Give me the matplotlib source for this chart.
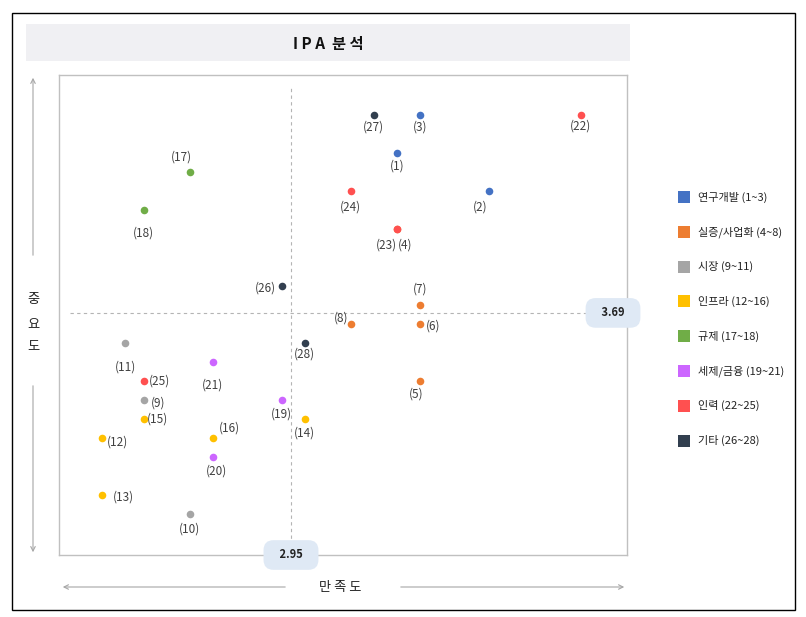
import matplotlib
matplotlib.use('Agg')
import matplotlib.pyplot as plt
from matplotlib.patches import Rectangle, FancyArrowPatch

plt.rcParams['font.family'] = ['Noto Sans CJK KR', 'DejaVu Sans']

# 범주 / 색
groups = ['연구개발 (1~3)', '실증/사업화 (4~8)', '시장 (9~11)', '인프라 (12~16)',
          '규제 (17~18)', '세제/금융 (19~21)', '인력 (22~25)', '기타 (26~28)']
colors = ['#4472C4', '#ED7D31', '#A5A5A5', '#FFC000',
          '#70AD47', '#CC66FF', '#FF5050', '#323F4F']

# 항목 번호, 그룹, 만족도, 중요도
ids = [1, 2, 3, 4, 5, 6, 7, 8, 9, 10, 11, 12, 13, 14,
       15, 16, 17, 18, 19, 20, 21, 22, 23, 24, 25, 26, 27, 28]
grp = [0, 0, 0, 1, 1, 1, 1, 1, 2, 2, 2, 3, 3, 3,
       3, 3, 4, 4, 5, 5, 5, 6, 6, 6, 6, 7, 7, 7]
satis = [3.18, 3.38, 3.23, 3.18, 3.23, 3.23, 3.23, 3.08, 2.63, 2.73, 2.59, 2.54, 2.54, 2.98,
         2.63, 2.78, 2.73, 2.63, 2.93, 2.78, 2.78, 3.58, 3.18, 3.08, 2.63, 2.93, 3.13, 2.98]
imp = [4.11, 4.01, 4.21, 3.91, 3.51, 3.66, 3.71, 3.66, 3.46, 3.16, 3.61, 3.36, 3.21, 3.41,
       3.41, 3.36, 4.06, 3.96, 3.46, 3.31, 3.56, 4.21, 3.91, 4.01, 3.51, 3.76, 4.21, 3.61]

x_mean = 2.95
y_mean = 3.69

# label offsets in pixels
offs = {1: (0, -13), 2: (-9, -16), 3: (0, -12), 4: (8, -16), 5: (-4, -13), 6: (13, -2),
        7: (0, 16), 8: (-10, 6), 9: (14, -3), 10: (0, -15), 11: (0, -24), 12: (15, -4),
        13: (21, -2), 14: (0, -14), 15: (14, 0), 16: (17, 10), 17: (-8, 15), 18: (0, -23),
        19: (0, -14), 20: (4, -14), 21: (0, -23), 22: (0, -11), 23: (-10, -16), 24: (0, -16),
        25: (16, 0), 26: (-16, -2), 27: (0, -12), 28: (0, -11)}

fig = plt.figure(figsize=(8.06, 6.17), dpi=100)
ax = fig.add_axes([59 / 806, 62 / 617, 568 / 806, 480 / 617])

# red (23) drawn after orange (4)
order = sorted(range(len(ids)), key=lambda i: (grp[i] == 6))
for i in order:
    ax.scatter(satis[i], imp[i], s=30, color=colors[grp[i]], zorder=3, linewidths=0)
for i in range(len(ids)):
    ax.annotate('(%d)' % ids[i], (satis[i], imp[i]), xytext=offs[ids[i]],
                textcoords='offset pixels', ha='center', va='center',
                fontsize=8.5, color='#404040', zorder=4)

ax.axvline(x_mean, ymin=0.02, ymax=0.975, color='#b4b4b4', lw=0.8, ls=(0, (3, 3)), zorder=1)
ax.axhline(y_mean, xmin=0.02, xmax=1.0, color='#b4b4b4', lw=0.8, ls=(0, (3, 3)), zorder=1)

ax.set_xlim(2.446, 3.680)
ax.set_ylim(3.053, 4.316)
ax.set_xticks([])
ax.set_yticks([])
for s in ax.spines.values():
    s.set_color('#c0c0c0')
    s.set_linewidth(1.0)

# value boxes
box = dict(boxstyle='round,pad=0.75,rounding_size=0.9', fc='#dfe9f5', ec='none')
ax.annotate('   %.2f   ' % x_mean, (x_mean, 0), xycoords=('data', 'axes fraction'),
            ha='center', va='center', fontsize=8, fontweight='bold', color='#222222',
            bbox=box, annotation_clip=False, zorder=5)
ax.annotate('   %.2f   ' % y_mean, (1, y_mean), xycoords=('axes fraction', 'data'),
            xytext=(-14, 0), textcoords='offset pixels',
            ha='center', va='center', fontsize=8, fontweight='bold', color='#222222',
            bbox=box, annotation_clip=False, zorder=5)

# 바깥 테두리 / 제목
fig.patches.append(Rectangle((12 / 806, 7 / 617), 783 / 806, 597 / 617, transform=fig.transFigure,
                             fill=False, ec='black', lw=1.0))
fig.patches.append(Rectangle((26 / 806, 556 / 617), 604 / 806, 37 / 617, transform=fig.transFigure,
                             fc='#f0f0f3', ec='none'))
fig.text(328 / 806, 573 / 617, 'I P A  분 석', ha='center', va='center', fontsize=11,
         fontweight='bold', color='#111111')

# 축 화살표
ac = '#a6a6a6'
arrows = [((288, 30), (60, 30)), ((398, 30), (627, 30)),
          ((33, 359), (33, 542)), ((33, 234), (33, 62))]
for a, b in arrows:
    fig.add_artist(FancyArrowPatch((a[0] / 806, a[1] / 617), (b[0] / 806, b[1] / 617),
                                   transform=fig.transFigure, arrowstyle='->',
                                   mutation_scale=8, color=ac, lw=0.8))
fig.text(340 / 806, 29 / 617, '만 족 도', ha='center', va='center', fontsize=9.5, color='#222222')
for k, ch in enumerate(['중', '요', '도']):
    fig.text(33 / 806, (317 - 23.5 * k) / 617, ch, ha='center', va='center', fontsize=9.5,
             color='#222222')

# 범례
for k, (g, c) in enumerate(zip(groups, colors)):
    yy = (617 - (197 + 34.8 * k)) / 617
    fig.patches.append(Rectangle((678 / 806, yy - 6 / 617), 12 / 806, 12 / 617,
                                 transform=fig.transFigure, fc=c, ec='none'))
    fig.text(698 / 806, yy, g, ha='left', va='center', fontsize=8, color='#222222')

fig.savefig('out.png', dpi=100)
